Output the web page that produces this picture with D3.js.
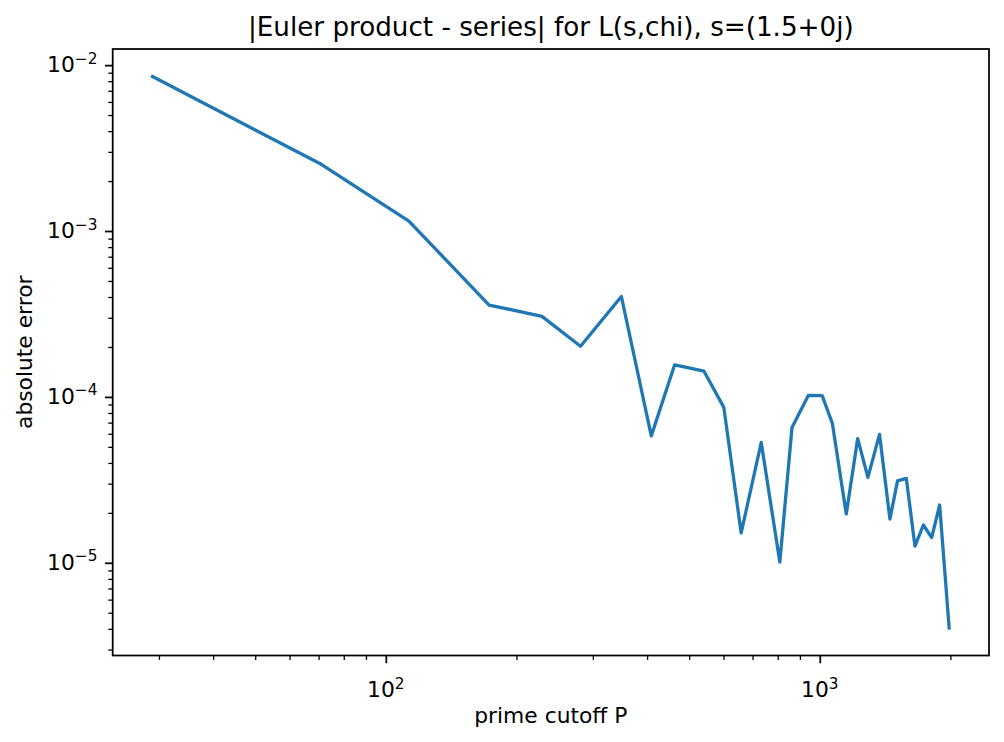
<!DOCTYPE html>
<html><head><meta charset="utf-8">
<script src="https://cdn.jsdelivr.net/npm/d3@7"></script>
<style>
body{margin:0;background:#fff}
text{font-family:"DejaVu Sans",sans-serif;fill:#000}
</style>
</head><body>
<svg id="c" width="1004" height="742"></svg>
<script>
// ---- data ----
const primeCutoffs = [29, 71, 113, 173, 229, 281, 349, 409, 463, 541, 601, 659, 733, 809, 863,
  941, 1013, 1069, 1151, 1223, 1291, 1373, 1451, 1511, 1583, 1657, 1733, 1811, 1889, 1987];
const absErrors = [8.53e-3, 2.525e-3, 1.148e-3, 3.58e-4, 3.06e-4, 2.02e-4, 4.03e-4, 5.82e-5, 1.561e-4, 1.429e-4,
  8.65e-5, 1.514e-5, 5.31e-5, 1.01e-5, 6.53e-5, 1.021e-4, 1.017e-4, 6.93e-5, 1.969e-5, 5.61e-5,
  3.27e-5, 5.95e-5, 1.837e-5, 3.12e-5, 3.23e-5, 1.26e-5, 1.69e-5, 1.419e-5, 2.23e-5, 4.05e-6];
const xMajorTicks = [100, 1000];
const xTickExponents = ["2", "3"];
const yMajorTicks = [1e-5, 1e-4, 1e-3, 1e-2];
const yTickExponents = ["\u22125", "\u22124", "\u22123", "\u22122"];
const titleText = "|Euler product - series| for L(s,chi), s=(1.5+0j)";
const xLabelText = "prime cutoff P";
const yLabelText = "absolute error";

// ---- layout ----
const L = 112.7, R = 989, T = 49, B = 655.5;
const fs = 21.8, titleFs = 26.2, supFs = 15.3;
const svg = d3.select("#c");

function logPad(arr) {
  const lo = Math.log10(d3.min(arr)), hi = Math.log10(d3.max(arr));
  const p = (hi - lo) * 0.05;
  return [Math.pow(10, lo - p), Math.pow(10, hi + p)];
}
const x = d3.scaleLog().domain(logPad(primeCutoffs)).range([L, R]);
const y = d3.scaleLog().domain(logPad(absErrors)).range([B, T]);

function minors(scale) {
  const [a, b] = scale.domain();
  const out = [];
  for (let e = Math.floor(Math.log10(a)); e <= Math.ceil(Math.log10(b)); e++) {
    for (let s = 2; s <= 9; s++) {
      const v = s * Math.pow(10, e);
      if (v >= a && v <= b) out.push(v);
    }
  }
  return out;
}

// line
const data = primeCutoffs.map((p, i) => [p, absErrors[i]]);
svg.append("path").datum(data)
  .attr("fill", "none").attr("stroke", "#1f77b4").attr("stroke-width", 3.3)
  .attr("stroke-linejoin", "round").attr("stroke-linecap", "square")
  .attr("d", d3.line().x(d => x(d[0])).y(d => y(d[1])));

// axes
function styleAxis(g, w) {
  g.select(".domain").remove();
  g.selectAll("line").attr("stroke", "#000").attr("stroke-width", w);
  g.selectAll("text").remove();
}
svg.append("g").attr("transform", `translate(0,${B})`)
  .call(d3.axisBottom(x).tickValues(minors(x)).tickSize(4.4).tickFormat(""))
  .call(g => styleAxis(g, 1.3));
svg.append("g").attr("transform", `translate(0,${B})`)
  .call(d3.axisBottom(x).tickValues(xMajorTicks).tickSize(7.7).tickFormat(""))
  .call(g => styleAxis(g, 1.75));
svg.append("g").attr("transform", `translate(${L},0)`)
  .call(d3.axisLeft(y).tickValues(minors(y)).tickSize(4.4).tickFormat(""))
  .call(g => styleAxis(g, 1.3));
svg.append("g").attr("transform", `translate(${L},0)`)
  .call(d3.axisLeft(y).tickValues(yMajorTicks).tickSize(7.7).tickFormat(""))
  .call(g => styleAxis(g, 1.75));

// frame
svg.append("rect").attr("x", L).attr("y", T).attr("width", R - L).attr("height", B - T)
  .attr("fill", "none").attr("stroke", "#000").attr("stroke-width", 1.75);

// tick labels
xMajorTicks.forEach((v, i) => {
  const t = svg.append("text").attr("x", x(v)).attr("y", 697).attr("text-anchor", "middle")
    .style("font-size", fs + "px");
  t.append("tspan").text("10");
  t.append("tspan").attr("dy", -8.5).style("font-size", supFs + "px").text(xTickExponents[i]);
});
yMajorTicks.forEach((v, i) => {
  const t = svg.append("text").attr("x", L - 15.3).attr("y", y(v) + 7).attr("text-anchor", "end")
    .style("font-size", fs + "px");
  t.append("tspan").text("10");
  t.append("tspan").attr("dy", -8.5).style("font-size", supFs + "px").text(yTickExponents[i]);
});

// labels
svg.append("text").attr("x", (L + R) / 2).attr("y", 36).attr("text-anchor", "middle")
  .style("font-size", titleFs + "px").text(titleText);
svg.append("text").attr("x", (L + R) / 2).attr("y", 723).attr("text-anchor", "middle")
  .style("font-size", fs + "px").text(xLabelText);
svg.append("text").attr("transform", `translate(32,${(T + B) / 2}) rotate(-90)`)
  .attr("text-anchor", "middle").style("font-size", fs + "px").text(yLabelText);
</script>
</body></html>
